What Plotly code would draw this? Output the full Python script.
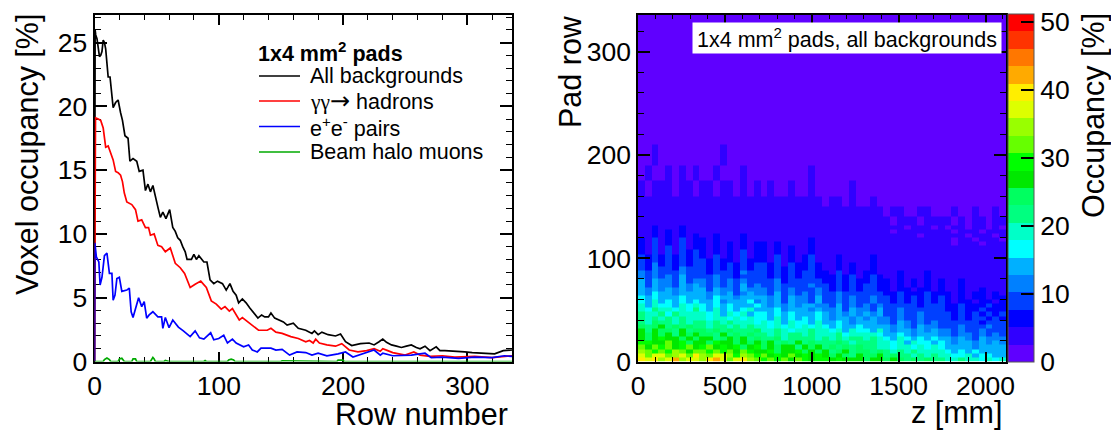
import plotly.graph_objects as go

# ---------- left panel: occupancy against row number
all_rows = [0,0.5,1,2,3,4,5,6,7,8,9,10,11,12.5,14,15,17,19,21,22.5,24.5,27,28.5,31,34,36,39,41,43,45,47,49,51,53,55,57.5,60.5,63,65,67,69,71,73,74.5,78,80,82,84,88,90.5,93,96,99,103,106,109,111.5,114,116,119,122,125,128,131.5,134.5,137,140,142,145,149,152,155,160,164,167,170,175,177,180,183,188,194,198,202,207,214,221,225,229,232,235,239,243,247,251,255,259,262,266,270,275,278,282,287,292,298,304,311,317,322,329,336]
all_vals = [0,26.0,25.6,25.3,24.7,23.9,24.0,24.3,25.2,25.0,24.5,23.0,22.3,22.3,20.4,19.9,20.3,20.5,19.5,18.9,17.7,17.5,15.7,15.9,15.7,14.9,15.0,13.4,13.9,13.3,13.8,13.05,12.1,11.3,11.7,11.2,11.9,10.5,10.2,9.7,9.5,9.0,8.6,8.0,8.0,8.4,8.0,8.3,7.8,7.8,6.4,6.1,6.3,6.1,5.6,6.1,5.5,5.2,4.6,4.9,4.6,4.2,3.8,3.4,3.65,3.5,3.5,3.8,3.4,3.25,3.1,2.85,3.0,2.6,2.55,2.45,2.2,2.4,2.1,2.3,2.1,2.0,2.15,1.55,1.25,1.4,1.45,1.3,1.55,1.75,1.5,1.3,1.2,1.1,1.2,1.3,1.1,1.0,1.2,0.85,1.15,0.85,0.85,0.8,0.8,0.75,0.7,0.65,0.65,0.6,0.85,0.9]

had_rows = [0,0.8,3,5,7,9,11,13,15,17,19,21,22.5,24,26,30,33,35,38,41,43.5,45,48,51,54,57,61,65,69,72.5,75,77,81,85.5,90,94,98,102,105,108.5,111,114,116.5,119,121,127,132,139,142,146,151,158,164,170,173,176,178,181,187,194,199,205,212,219,225,230,232,236,240,245,250,257,262,270,280,290,306,320,336]
had_vals = [0,19.1,19.0,18.9,18.3,16.8,16.9,16.3,15.8,14.9,14.8,14.6,14.1,13.2,12.5,12.3,11.9,11.0,11.1,10.5,10.5,9.9,10.0,9.1,9.0,8.6,8.9,7.7,7.35,6.9,6.2,5.8,6.05,6.3,5.8,4.75,4.5,4.1,4.3,3.95,4.15,3.7,3.25,3.45,3.3,2.85,2.45,2.45,2.6,2.3,2.2,1.95,1.8,1.55,1.65,1.45,1.75,1.45,1.3,1.2,1.4,0.9,0.75,0.85,1.0,0.8,1.0,0.85,0.7,0.6,0.5,0.75,0.5,0.4,0.45,0.35,0.4,0.3,0.45]

pair_rows = [0,0.3,1.5,3.5,4.5,6,8,10,12,14,15,16.5,18,20,22,26,28,29.5,31,33,35.5,38,40,42,44,47,51,54,55,57,60,63,67.5,71.5,77,81,84.5,88,93.5,96,100,104,107,111,114,120,124,127,131,134,142,146,151,157,163,170,175,180,187,196,202,208,214,225,230,232,240,247,255,266,271,280,293,306,320,330,336]
pair_vals = [0,9.3,8.2,7.8,6.0,6.6,8.3,8.5,6.9,6.9,4.8,5.2,6.5,6.6,5.5,5.6,5.75,3.9,3.45,4.2,5.0,4.3,4.7,3.4,3.65,3.9,3.5,3.5,2.6,3.45,2.65,3.25,2.7,2.4,1.95,2.4,1.85,1.75,2.25,1.7,1.8,2.05,1.45,1.75,1.45,1.15,1.3,0.9,0.75,1.05,1.05,0.9,0.95,0.5,0.75,0.7,0.5,0.65,0.45,0.6,0.75,0.35,0.55,0.9,0.5,0.65,0.45,0.45,0.5,0.65,0.3,0.35,0.25,0.35,0.3,0.45,0.4]

halo_rows = [0,7,8,10,12,13,19,20,22,24,30,31,33,34,45,46,47,48,49,56,57,60,88,89,90,107,108,110,112,113,150,151,195,196,200,201,336]
halo_vals = [0,0,0.15,0.27,0.15,0,0,0.2,0.25,0,0,0.2,0.2,0,0,0.2,0.32,0.2,0,0,0.08,0,0,0.08,0,0,0.12,0.18,0.12,0,0,0.06,0,0.1,0.1,0,0]

series_names = ["All backgrounds", "<span style='font-family:Liberation Serif'>γγ</span><span style='font-family:DejaVu Sans;font-size:24px'>→</span> hadrons", "e<sup>+</sup>e<sup>-</sup> pairs", "Beam halo muons"]
series_colors = ["#000000", "#ff0000", "#0000ff", "#00aa00"]

# ---------- right panel: occupancy map, 54 z bins per row
z_first, z_step = 19.6, 39.22
row_edges = [0,4,8,12,16,20,24,28,32,36,40,44,48,52,56,60,64,68,72,76,80,84,88,92,96,100,104,108,112,116,120,124,128,132,140,150,160,175,190,210,240,336]
occupancy = [
[40,36,39,34,37,41,35,38,36, 34,39,41,37,33,38,40,35,31, 30,33,29,31,28,32,30,28,29, 29,27,30,26,28,27,25,28,26, 25,27,24,23,25,22,24,21,22, 20,19,21,18,19,17,18,16,19],
[37,33,36,38,32,35,37,33,39, 35,31,36,38,34,30,35,33,29, 31,27,30,28,31,26,29,27,30, 27,24,28,25,23,27,25,24,26, 22,24,21,23,20,22,19,21,20, 18,17,16,18,15,17,16,15,14],
[34,31,29,33,30,35,31,28,32, 33,29,32,30,33,28,31,29,27, 28,30,25,28,26,29,25,27,24, 26,23,25,27,22,24,25,22,24, 21,19,22,18,21,20,18,20,19, 16,15,17,14,16,14,15,13,15],
[31,28,32,29,31,27,30,33,28, 29,31,26,30,27,29,25,28,30, 25,27,24,26,28,23,26,24,27, 23,25,22,24,21,25,22,23,20, 19,17,20,18,16,19,17,18,16, 15,13,15,14,12,15,13,14,13],
[29,30,26,28,31,27,29,25,28, 27,25,29,26,28,24,27,25,28, 24,26,23,25,22,26,23,25,22, 23,21,24,22,20,23,21,22,19, 18,16,19,15,18,16,17,15,17, 14,12,14,13,11,14,12,13,12],
[28,25,27,29,26,28,24,27,25, 26,28,23,25,27,24,26,22,25, 23,21,24,20,23,22,21,23,20, 22,20,23,19,21,22,18,21,20, 17,15,18,16,14,17,15,16,14, 13,11,13,12,10,13,11,12,11],
[27,24,26,25,28,23,26,24,27, 24,25,22,26,23,25,21,24,23, 22,20,23,19,22,21,20,22,19, 20,18,21,17,19,20,18,19,17, 15,13,16,14,12,15,13,14,12, 12,10,12,11,9,12,10,11,10],
[26,23,27,24,25,22,26,23,24, 25,22,24,21,25,22,23,21,24, 20,18,21,19,17,20,18,21,18, 18,16,19,15,18,16,17,15,18, 14,12,15,13,11,14,12,13,11, 11,9,11,10,9,11,9,10,9],
[25,22,24,26,21,24,22,25,21, 22,20,23,21,19,23,20,22,19, 19,17,20,16,19,17,18,16,19, 16,14,17,15,13,16,14,15,13, 13,11,14,12,10,13,11,12,10, 10,9,11,9,10,8,11,9,10],
[23,20,24,21,22,19,23,20,22, 21,18,22,19,21,18,20,19,17, 18,16,19,15,18,16,17,15,19, 15,13,16,14,12,15,13,14,12, 12,10,13,11,9,12,10,11,9, 9,8,10,8,9,7,10,8,9],
[22,19,23,20,21,18,22,19,20, 19,17,20,18,16,20,17,19,16, 17,15,18,14,17,15,16,14,17, 14,12,15,13,11,14,12,13,11, 11,9,12,10,9,11,10,10,9, 8,7,9,7,8,9,7,8,7],
[21,18,20,22,17,21,18,20,19, 18,16,19,15,18,16,19,15,17, 16,14,17,13,16,14,15,13,16, 13,12,15,11,14,12,13,11,14, 10,9,11,10,8,11,9,10,9, 8,7,9,7,8,6,9,7,8],
[20,17,21,18,19,16,20,17,21, 17,15,18,14,17,15,16,18,14, 15,13,16,12,15,13,14,12,15, 12,11,14,10,13,11,12,10,13, 9,8,11,9,8,10,8,9,8, 7,6,8,6,7,8,6,7,6],
[18,15,19,16,17,15,19,16,18, 16,14,17,13,16,14,15,13,17, 14,12,15,11,14,12,13,15,12, 11,10,13,10,12,10,11,9,12, 9,8,10,8,9,7,10,8,9, 7,6,8,6,7,6,8,6,7],
[17,14,18,15,16,14,17,15,16, 15,13,16,12,15,13,14,16,12, 13,11,14,10,13,11,12,10,14, 10,9,12,9,11,9,10,11,9, 8,7,9,7,8,6,9,7,8, 6,5,7,6,5,7,6,5,6],
[16,13,17,14,15,13,16,14,15, 15,12,16,13,14,12,15,13,14, 13,11,14,10,13,11,12,10,13, 10,9,11,9,12,8,10,11,9, 8,7,9,7,8,6,9,7,8, 6,5,7,5,6,7,5,6,6],
[15,12,16,13,14,12,15,13,14, 13,11,14,11,13,10,12,14,11, 12,10,13,9,12,10,11,9,12, 9,8,11,8,10,8,9,10,8, 7,6,8,6,7,6,8,6,7, 6,5,7,5,6,6,5,6,5],
[14,12,15,12,13,11,14,12,13, 13,10,13,11,12,10,13,11,12, 11,9,12,8,11,9,10,8,11, 8,7,10,7,9,7,8,9,7, 6,5,7,6,5,7,6,5,6, 5,4,6,5,4,6,4,5,5],
[13,10,14,11,12,10,14,11,13, 12,9,12,10,11,9,13,10,11, 10,8,11,8,10,8,9,11,8, 8,7,9,7,9,6,8,9,7, 6,5,7,5,6,5,7,5,6, 5,4,6,4,5,5,4,5,5],
[13,10,13,11,12,9,14,10,12, 11,9,12,9,11,8,12,9,10, 10,8,11,7,10,8,9,10,8, 7,6,9,6,8,6,7,8,6, 6,5,7,5,6,5,7,5,6, 5,4,6,4,5,5,4,5,4],
[11,8,12,9,11,8,13,9,10, 10,8,11,8,10,7,10,8,9, 9,7,10,7,9,7,8,9,7, 7,6,8,6,8,5,7,8,6, 5,4,6,4,5,4,6,4,5, 4,3,5,4,4,5,3,4,4],
[11,8,12,9,10,8,12,9,10, 10,7,10,8,9,7,11,8,9, 9,7,9,6,9,7,8,10,7, 6,5,8,5,7,5,6,7,5, 5,4,6,4,5,4,6,4,5, 4,3,5,3,4,4,3,4,4],
[10,7,11,8,9,7,11,8,9, 9,7,9,7,8,6,9,7,8, 8,6,9,6,8,6,7,9,6, 5,5,7,4,6,5,5,6,5, 4,3,5,4,4,3,5,4,4, 4,3,4,3,4,4,3,4,3],
[9,7,11,7,10,6,10,7,9, 8,6,9,6,8,6,9,6,8, 8,6,8,5,8,6,7,9,6, 5,4,7,4,6,4,5,6,4, 4,3,5,3,4,3,5,3,4, 3,3,4,3,3,4,3,3,3],
[9,6,10,6,10,6,10,6,9, 8,6,8,6,7,5,9,6,7, 7,5,8,5,7,5,6,8,5, 5,4,6,4,5,4,5,6,4, 4,3,5,3,4,3,5,3,4, 3,3,4,3,3,3,3,3,3],
[8,6,10,6,9,6,10,6,8, 7,5,8,5,7,5,8,5,7, 7,5,8,4,7,5,6,8,5, 5,4,6,4,5,4,5,6,4, 3,3,4,3,4,3,4,3,3, 3,3,4,3,3,3,3,3,3],
[7,5,9,5,8,5,9,6,8, 7,5,7,5,7,4,8,5,6, 6,4,7,4,6,4,5,7,4, 4,4,5,3,5,4,4,5,4, 3,3,4,3,3,3,4,3,3, 3,3,3,3,3,3,3,3,3],
[7,5,9,5,8,5,9,5,7, 7,5,7,5,6,4,7,5,6, 6,4,6,4,6,4,5,7,4, 4,3,5,3,5,3,4,5,3, 3,3,4,3,3,3,4,3,3, 3,3,3,3,3,3,3,3,3],
[6,5,8,4,7,5,8,5,7, 6,4,6,5,6,4,7,4,6, 6,4,6,4,5,4,5,6,4, 4,3,5,3,4,3,4,5,3, 3,3,3,3,3,3,3,3,3, 3,2,3,3,3,2,3,3,3],
[6,4,8,4,7,4,8,5,6, 6,4,6,4,5,4,6,4,5, 5,4,5,3,5,4,4,6,3, 4,3,4,3,4,3,4,4,3, 3,3,3,3,3,3,3,3,3, 3,2,3,3,2,3,3,3,2],
[5,4,7,4,6,4,7,4,6, 5,4,6,4,5,4,6,4,5, 5,3,5,3,5,3,4,5,3, 4,3,4,3,4,3,4,4,3, 3,3,3,3,3,2,3,3,3, 3,3,3,2,3,3,3,2,3],
[5,4,6,4,6,4,7,4,5, 5,4,5,4,5,3,5,4,5, 5,3,5,3,4,3,4,5,3, 3,3,4,3,3,3,3,4,3, 3,2,3,3,3,3,3,3,3, 3,2,3,3,3,2,3,3,3],
[5,4,6,4,5,4,6,4,5, 5,3,5,4,4,3,5,4,4, 4,3,5,3,4,3,4,5,3, 3,3,4,3,3,3,3,4,3, 3,3,3,2,3,3,3,2,3, 2,3,3,2,3,3,2,3,2],
[4,4,5,4,5,4,5,4,5, 4,3,5,3,4,4,5,3,4, 4,3,4,3,4,3,4,4,3, 3,3,4,3,3,3,3,3,3, 3,2,3,3,3,2,3,3,3, 3,2,3,2,3,3,2,3,3],
[4,3,5,3,4,4,5,3,4, 4,3,4,3,4,3,5,3,4, 3,3,4,3,4,3,3,4,3, 3,3,3,3,3,3,3,3,3, 2,3,3,2,2,3,3,2,2, 2,3,2,2,3,2,2,3,2],
[4,3,4,3,4,3,4,3,4, 3,3,4,3,3,3,4,3,3, 3,3,3,3,3,3,3,3,3, 2,3,3,2,3,2,2,3,2, 2,2,2,2,2,2,2,2,2, 2,1,2,1,2,2,1,2,2],
[3,2,3,3,3,2,3,3,2, 3,3,2,3,3,2,3,2,3, 2,3,2,2,3,2,2,3,2, 2,2,2,2,3,2,2,2,2, 2,2,2,2,2,1,2,2,2, 1,1,1,1,1,1,1,1,1],
[2,3,2,2,3,2,3,2,3, 2,2,3,2,2,2,3,2,2, 2,2,2,2,2,2,2,3,2, 2,2,2,2,2,2,2,2,2, 1,1,2,1,1,1,2,1,1, 1,1,1,1,1,1,1,1,1],
[2,2,3,2,2,2,2,2,2, 2,2,2,3,2,2,2,2,2, 2,2,2,2,2,2,2,2,2, 1,1,2,1,1,1,1,2,1, 1,1,1,1,1,1,1,1,1, 1,1,1,1,1,1,1,1,1],
[2,2,2,2,2,2,2,2,2, 2,2,2,2,2,2,2,2,2, 1,1,2,1,1,1,1,1,1, 1,1,1,1,1,1,1,1,1, 1,1,1,1,1,1,1,1,1, 1,1,1,0,1,1,0,1,1],
[1,1,1,1,1,1,1,1,1, 1,1,1,1,1,1,1,1,1, 1,1,1,1,1,1,1,1,1, 1,1,1,0,1,1,0,1,1, 0,0,0,0,0,0,0,0,0, 0,0,0,0,0,0,0,0,0],
]
occ_max = 51.2
band_colors = ["#5f00ff","#3000ff","#0000ff","#0040ff","#0080ff","#00b0ff","#00ffff","#00ffc8","#00ff80","#00ff60",
               "#00e800","#00ff00","#66ff00","#99ff00","#ddff00","#ffee00","#ffaa00","#ff7700","#ff3300","#ff0000"]
colorscale = []
for i, c in enumerate(band_colors):
    colorscale += [[i/len(band_colors), c], [(i+1)/len(band_colors), c]]

FONT = "Liberation Sans, Arial, sans-serif"
W, H = 1111, 430
TICK = 26.5
TITLE = 30.5
def fx(p): return p/W
def fy(p): return 1-p/H

fig = go.Figure()
for rows, vals, name, col in zip([all_rows, had_rows, pair_rows, halo_rows],
                                 [all_vals, had_vals, pair_vals, halo_vals],
                                 series_names, series_colors):
    fig.add_trace(go.Scatter(x=rows, y=vals, mode="lines", name=name, cliponaxis=False, showlegend=False,
                             line=dict(color=col, width=1.7), xaxis="x", yaxis="y"))

fig.add_trace(go.Heatmap(x0=z_first, dx=z_step, y=row_edges, z=occupancy, zmin=0, zmax=occ_max, colorscale=colorscale,
                         xaxis="x2", yaxis="y2", showlegend=False,
                         colorbar=dict(x=fx(1008), xanchor="left", xpad=0, y=fy(362), yanchor="bottom", ypad=0,
                                       len=348/H, lenmode="fraction", thickness=26, thicknessmode="pixels",
                                       outlinewidth=1, outlinecolor="#555555", ticks="inside", ticklen=13, tickwidth=1.5,
                                       tickcolor="#000000", tickvals=[0,10,20,30,40,50],
                                       tickfont=dict(family=FONT, size=TICK, color="#000000"))))

def ax(domain, rng, major, minor, mlen, nlen, anchor, lw, layer):
    return dict(domain=domain, range=rng, anchor=anchor, showgrid=False, zeroline=False, showline=True, mirror="ticks",
                linecolor="#000000", linewidth=lw, ticks="inside", tickcolor="#000000", tickwidth=1.5, ticklen=mlen,
                dtick=major, tick0=0, layer=layer,
                tickfont=dict(family=FONT, size=TICK, color="#000000"),
                minor=dict(dtick=minor, tick0=0, ticks="inside", ticklen=nlen, tickwidth=1.2, tickcolor="#000000", showgrid=False))

ydom = [fy(361.5), fy(14.5)]
fig.update_layout(
    width=W, height=H, autosize=False, margin=dict(l=0, r=0, t=0, b=0, autoexpand=False),
    paper_bgcolor="#ffffff", plot_bgcolor="#ffffff", showlegend=False,
    xaxis=ax([fx(94.5), fx(512)], [0, 336], 100, 20, 10, 5, "y", 2, "below traces"),
    yaxis=ax(ydom, [0, 27.2], 5, 1, 12, 6, "x", 2, "below traces"),
    xaxis2=ax([fx(638), fx(1006)], [0, 2118], 500, 100, 10, 5, "y2", 1.5, "above traces"),
    yaxis2=ax(ydom, [0, 336], 100, 20, 12, 6, "x2", 1.5, "above traces"),
)

def note(text, x, y, size, angle=0, xanchor="center", yanchor="middle", **kw):
    fig.add_annotation(text=text, xref="paper", yref="paper", x=fx(x), y=fy(y), showarrow=False, textangle=angle,
                       xanchor=xanchor, yanchor=yanchor, font=dict(family=FONT, size=size, color="#000000"), **kw)

note("Row number", 510, 414, TITLE, xanchor="right")
note("Voxel occupancy [%]", 27, 155, TITLE, angle=-90)
note("Pad row", 570, 72, TITLE, angle=-90)
note("z [mm]", 1005, 412, TITLE, xanchor="right")
note("Occupancy [%]", 1093, 116, TITLE, angle=-90)
note("1x4 mm<sup>2</sup> pads, all backgrounds", 847, 38, 21.5, bgcolor="#ffffff", width=306, height=28)

# legend block
note("<b>1x4 mm<sup>2</sup> pads</b>", 256, 52, 21.5, xanchor="left")
for name, col, ypos in zip(series_names, series_colors, [76, 101, 126.5, 152]):
    note(name, 308, ypos, 21.5, xanchor="left")
    fig.add_shape(type="line", xref="paper", yref="paper", x0=fx(259), x1=fx(300), y0=fy(ypos), y1=fy(ypos),
                  line=dict(color=col, width=1.7))

fig.write_html("out.html", post_script="document.body.style.margin='0';", config={"displayModeBar": False})
